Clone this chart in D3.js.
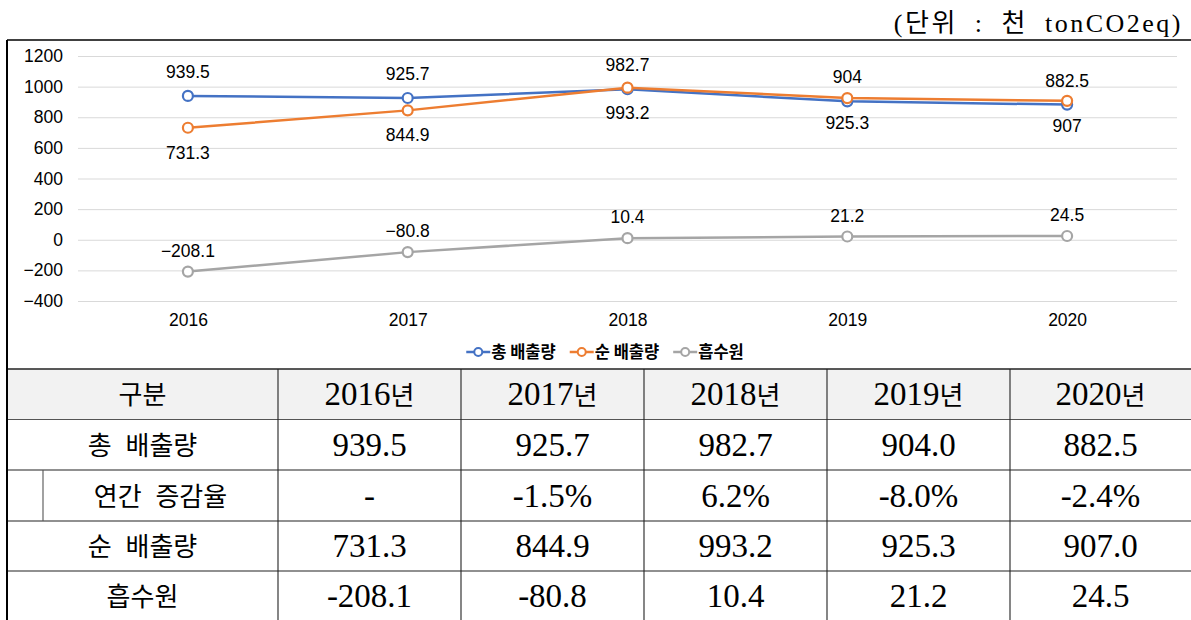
<!DOCTYPE html>
<html>
<head>
<meta charset="utf-8">
<script src="https://cdn.jsdelivr.net/npm/d3@7"></script>
<style>
  body { margin: 0; background: #fff; }
  svg { display: block; }
</style>
</head>
<body>
<svg id="chart" width="1191" height="620"></svg>
<script>
const YEARS = ['2016', '2017', '2018', '2019', '2020'];
const SERIES_NAMES = ['총 배출량', '순 배출량', '흡수원'];
const GROSS = [939.5, 925.7, 982.7, 904, 882.5];
const NET = [731.3, 844.9, 993.2, 925.3, 907];
const SINK = [-208.1, -80.8, 10.4, 21.2, 24.5];
const Y_TICKS = [-400, -200, 0, 200, 400, 600, 800, 1000, 1200];

const TABLE_HEADER = ['구분', '2016년', '2017년', '2018년', '2019년', '2020년'];
const TABLE_ROW_LABELS = ['총 배출량', '연간 증감율', '순 배출량', '흡수원'];
const RATE_LABELS = ['-', '-1.5%', '6.2%', '-8.0%', '-2.4%'];
const UNIT_LABEL = '(단위 : 천 tonCO2eq)';

const COLORS = ['#4472C4', '#ED7D31', '#A5A5A5'];

const svg = d3.select('#chart');
const W = 1191;
const SANS = '"Liberation Sans", Arial, sans-serif';

// unit label
svg.append('text')
    .attr('x', 1183).attr('y', 32)
    .attr('text-anchor', 'end')
    .style('font-family', '"Liberation Serif", "Noto Sans CJK KR", serif')
    .style('font-size', '26px')
    .style('letter-spacing', '2.5px')
    .style('word-spacing', '8px')
    .text(UNIT_LABEL);

// chart
const x = d3.scalePoint().domain(YEARS).range([78, 1177]).padding(0.5);
const y = d3.scaleLinear().domain([-400, 1200]).range([301, 56]);

const yAxis = svg.append('g')
    .attr('transform', 'translate(78,0)')
    .call(d3.axisLeft(y).tickValues(Y_TICKS).tickFormat(d3.format('d'))
        .tickSize(-(1177 - 78)).tickPadding(15));
yAxis.select('.domain').remove();
yAxis.selectAll('line').attr('stroke', '#d9d9d9');
yAxis.selectAll('text')
    .style('font-family', SANS)
    .style('font-size', '17.5px')
    .attr('fill', '#000');

const xAxis = svg.append('g')
    .attr('transform', 'translate(0,301)')
    .call(d3.axisBottom(x).tickSize(0).tickPadding(13));
xAxis.select('.domain').remove();
xAxis.selectAll('text')
    .style('font-family', SANS)
    .style('font-size', '17.5px')
    .attr('fill', '#000');

const series = [GROSS, NET, SINK].map((values, i) => ({
    name: SERIES_NAMES[i],
    color: COLORS[i],
    // label offset: gross above, net below, sink above
    dy: [-18, 31, -15][i],
    points: values.map((v, j) => ({ year: YEARS[j], value: v }))
}));

const line = d3.line().x(d => x(d.year)).y(d => y(d.value));

const g = svg.selectAll('g.series')
    .data(series)
    .enter()
    .append('g')
    .attr('class', 'series');

g.append('path')
    .attr('d', d => line(d.points))
    .attr('fill', 'none')
    .attr('stroke', d => d.color)
    .attr('stroke-width', 2.5);

g.selectAll('circle')
    .data(d => d.points.map(p => ({ ...p, color: d.color })))
    .enter()
    .append('circle')
    .attr('cx', d => x(d.year))
    .attr('cy', d => y(d.value))
    .attr('r', 5)
    .attr('fill', '#fff')
    .attr('stroke', d => d.color)
    .attr('stroke-width', 2.2);

g.selectAll('text.lbl')
    .data(d => d.points.map(p => ({ ...p, dy: d.dy })))
    .enter()
    .append('text')
    .attr('class', 'lbl')
    .attr('x', d => x(d.year))
    .attr('y', d => y(d.value) + d.dy)
    .attr('text-anchor', 'middle')
    .style('font-family', SANS)
    .style('font-size', '17.5px')
    .text(d => d.value < 0 ? '\u2212' + Math.abs(d.value) : String(d.value));

// legend
const legend = svg.append('g').attr('transform', 'translate(0,352)');
const items = legend.selectAll('g')
    .data(series)
    .enter()
    .append('g');
items.append('line')
    .attr('x1', 0).attr('x2', 24)
    .attr('stroke', d => d.color).attr('stroke-width', 2.5);
items.append('circle')
    .attr('cx', 12).attr('r', 4)
    .attr('fill', '#fff').attr('stroke', d => d.color).attr('stroke-width', 2);
items.append('text')
    .attr('x', 25).attr('y', 6)
    .style('font-family', '"Noto Sans CJK KR", sans-serif')
    .style('font-size', '16.5px')
    .style('font-weight', '700')
    .text(d => d.name);
let widths = [];
items.each(function () { widths.push(this.getBBox().width); });
const gap = 14;
const total = d3.sum(widths) + gap * (widths.length - 1);
let cursor = 605 - total / 2;
items.attr('transform', (d, i) => {
    const t = `translate(${cursor},0)`;
    cursor += widths[i] + gap;
    return t;
});

// table
const COL_X = [7, 278, 461, 644, 827, 1010, W];
const ROW_Y = [369, 419.5, 470, 521, 571, 621];

svg.append('rect')
    .attr('x', 7).attr('y', ROW_Y[0])
    .attr('width', W - 7).attr('height', ROW_Y[1] - ROW_Y[0])
    .attr('fill', '#f2f2f2');

const rows = [
    TABLE_HEADER,
    [TABLE_ROW_LABELS[0], ...GROSS.map(v => v.toFixed(1))],
    [TABLE_ROW_LABELS[1], ...RATE_LABELS],
    [TABLE_ROW_LABELS[2], ...NET.map(v => v.toFixed(1))],
    [TABLE_ROW_LABELS[3], ...SINK.map(v => v.toFixed(1))]
];

// horizontal lines
svg.selectAll('line.h')
    .data(ROW_Y)
    .enter()
    .append('line')
    .attr('x1', 7).attr('x2', W)
    .attr('y1', d => d).attr('y2', d => d)
    .attr('stroke', (d, i) => i === 1 ? '#555' : '#222')
    .attr('stroke-width', (d, i) => i === 0 ? 1.6 : 1.1);

// vertical lines
svg.selectAll('line.v')
    .data(COL_X.slice(1, -1))
    .enter()
    .append('line')
    .attr('x1', d => d).attr('x2', d => d)
    .attr('y1', ROW_Y[0]).attr('y2', 620)
    .attr('stroke', '#222').attr('stroke-width', 1.1);

// sub-indent cell for annual rate
svg.append('line')
    .attr('x1', 43).attr('x2', 43)
    .attr('y1', ROW_Y[2]).attr('y2', ROW_Y[3])
    .attr('stroke', '#555').attr('stroke-width', 1.1);

rows.forEach((row, r) => {
    const cy = (ROW_Y[r] + ROW_Y[r + 1]) / 2;
    row.forEach((cell, c) => {
        let cx = (COL_X[c] + COL_X[c + 1]) / 2;
        if (c === 0 && r === 2) cx = (43 + COL_X[1]) / 2;
        const t = svg.append('text')
            .attr('x', cx)
            .attr('y', cy + 11)
            .attr('text-anchor', 'middle')
            .attr('fill', '#000');
        if (c === 0) {
            t.style('font-family', '"Noto Sans CJK KR", sans-serif')
                .style('font-size', '26px')
                .style('word-spacing', '8px')
                .attr('y', cy + 10)
                .text(cell);
        } else {
            const m = cell.match(/^([^년]*)(년?)$/);
            t.style('font-family', '"Liberation Serif", serif')
                .style('font-size', '33px');
            t.append('tspan').text(m[1]);
            if (m[2]) {
                t.append('tspan')
                    .style('font-family', '"Noto Sans CJK KR", sans-serif')
                    .style('font-size', '26px')
                    .text(m[2]);
            }
        }
    });
});

// outer frame
svg.append('line')
    .attr('x1', 7).attr('x2', W).attr('y1', 40).attr('y2', 40)
    .attr('stroke', '#000').attr('stroke-width', 1.6);
svg.append('line')
    .attr('x1', 7).attr('x2', 7).attr('y1', 40).attr('y2', 620)
    .attr('stroke', '#000').attr('stroke-width', 2);
</script>
</body>
</html>
